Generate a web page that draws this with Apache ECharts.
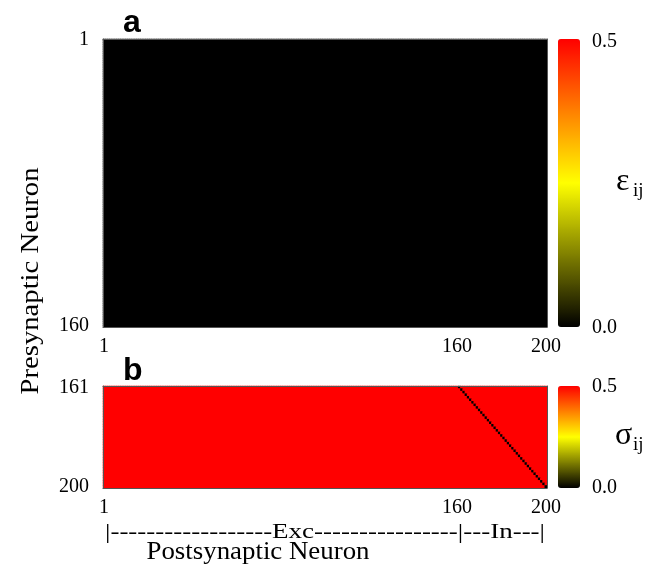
<!DOCTYPE html>
<html>
<head>
<meta charset="utf-8">
<script src="https://cdn.jsdelivr.net/npm/echarts@6/dist/echarts.min.js"></script>
<style>
  html, body { margin: 0; padding: 0; background: #fff; }
  #chart { width: 664px; height: 564px; }
</style>
</head>
<body>
<div id="chart"></div>
<script>
// ---------------- data ----------------
const NUM_NEURONS = 200;          // 160 excitatory + 40 inhibitory
const NUM_EXC = 160;
const postNeurons = Array.from({length: NUM_NEURONS}, (_, i) => String(i + 1));
const preNeuronsA = Array.from({length: NUM_EXC}, (_, i) => String(i + 1));             // 1..160
const preNeuronsB = Array.from({length: NUM_NEURONS - NUM_EXC}, (_, i) => String(NUM_EXC + i + 1)); // 161..200

const epsilonValue = 0.0;   // panel a: every excitatory coupling reads black
const sigmaValue = 0.5;     // panel b: every inhibitory coupling reads red
// inhibitory neurons without self-coupling (the black diagonal)
const sigmaZeroSelf = [161,162,163,164,165,166,167,168,169,170,171,172,173,174,175,176,177,178,179,180,
                       181,182,183,184,185,186,187,188,189,190,191,192,193,194,195,196,197,198,199,200];

const xTickLabels = ['1', '160', '200'];
const yTickLabelsA = ['1', '160'];
const yTickLabelsB = ['161', '200'];
const colorbarMin = 0.0, colorbarMax = 0.5;
const colorbarLabels = ['0.5', '0.0'];

// ---------------- build matrices ----------------
const dataA = [];
for (let r = 0; r < preNeuronsA.length; r++)
  for (let c = 0; c < postNeurons.length; c++)
    dataA.push([c, r, epsilonValue]);

const zeroSet = new Set(sigmaZeroSelf);
const dataB = [];
for (let r = 0; r < preNeuronsB.length; r++) {
  const pre = Number(preNeuronsB[r]);
  for (let c = 0; c < postNeurons.length; c++) {
    const post = Number(postNeurons[c]);
    dataB.push([c, r, (zeroSet.has(pre) && pre === post) ? 0 : sigmaValue]);
  }
}

// ---------------- styling ----------------
const SERIF = '"Liberation Serif", "DejaVu Serif", serif';
const SANS = '"Liberation Sans", Arial, sans-serif';
const cmap = ['#000000', '#ffff00', '#ff0000'];
const FRAME = '#555555';

const gridA = {left: 103, top: 39, width: 444, height: 288};
const gridB = {left: 103, top: 386, width: 444, height: 102};

function catAxis(gridIndex, data, labels, isY, position) {
  const s = new Set(labels);
  const showLabels = !!labels;
  return {
    type: 'category', gridIndex, data, position,
    inverse: !!isY, z: 10,
    axisLine: {show: true, onZero: false, lineStyle: {color: FRAME, width: 1}},
    axisTick: {show: false}, splitLine: {show: false},
    axisLabel: {
      show: showLabels,
      interval: (idx, val) => s.has(val),
      color: '#000', fontFamily: SERIF, fontSize: 20,
      margin: isY ? 14 : 10
    }
  };
}

// measure text so that long labels can be stretched to the reference length
function textWidth(str, font) {
  const ctx = document.createElement('canvas').getContext('2d');
  ctx.font = font;
  return ctx.measureText(str).width;
}
const excLine = '|------------------Exc----------------|---In---|';
const excFontSize = 22;
const excScale = 440 / textWidth(excLine, excFontSize + 'px "Liberation Serif"');
const nameFontSize = 25;
const preName = 'Presynaptic Neuron';
const postName = 'Postsynaptic Neuron';
const preScale = 227 / textWidth(preName, nameFontSize + 'px "Liberation Serif"');
const postScale = 223 / textWidth(postName, nameFontSize + 'px "Liberation Serif"');

const chart = echarts.init(document.getElementById('chart'), null, {renderer: 'canvas'});
chart.setOption({
  backgroundColor: '#ffffff',
  animation: false,
  grid: [
    Object.assign({show: true, borderWidth: 0, backgroundColor: cmap[0]}, gridA),
    Object.assign({show: true, borderWidth: 0, backgroundColor: cmap[2]}, gridB)
  ],
  xAxis: [
    catAxis(0, postNeurons, xTickLabels, false, 'bottom'),
    catAxis(1, postNeurons, xTickLabels, false, 'bottom'),
    catAxis(0, postNeurons, null, false, 'top'),
    catAxis(1, postNeurons, null, false, 'top')
  ],
  yAxis: [
    catAxis(0, preNeuronsA, yTickLabelsA, true, 'left'),
    catAxis(1, preNeuronsB, yTickLabelsB, true, 'left'),
    catAxis(0, preNeuronsA, null, true, 'right'),
    catAxis(1, preNeuronsB, null, true, 'right')
  ],
  visualMap: [
    {
      type: 'continuous', seriesIndex: 0, min: colorbarMin, max: colorbarMax,
      calculable: false, hoverLink: false, realtime: false,
      orient: 'vertical', left: 558, top: 39, itemWidth: 22, itemHeight: 288,
      padding: 0, text: null, showLabel: false,
      inRange: {color: cmap}
    },
    {
      type: 'continuous', seriesIndex: 1, min: colorbarMin, max: colorbarMax,
      calculable: false, hoverLink: false, realtime: false,
      orient: 'vertical', left: 558, top: 386, itemWidth: 22, itemHeight: 102,
      padding: 0, text: null, showLabel: false,
      inRange: {color: cmap}
    }
  ],
  series: [
    {type: 'heatmap', xAxisIndex: 0, yAxisIndex: 0, data: dataA, progressive: 0, emphasis: {disabled: true}},
    {type: 'heatmap', xAxisIndex: 1, yAxisIndex: 1, data: dataB, progressive: 0, emphasis: {disabled: true}}
  ],
  graphic: [
    {type: 'text', left: 123, top: 7, style: {text: 'a', font: 'bold 32px ' + SANS, fill: '#000'}},
    {type: 'text', left: 123, top: 355, style: {text: 'b', font: 'bold 32px ' + SANS, fill: '#000'}},
    // colorbar tick labels
    {type: 'text', x: 592, y: 42, style: {text: colorbarLabels[0], font: '20px ' + SERIF, fill: '#000', verticalAlign: 'middle'}},
    {type: 'text', x: 592, y: 328, style: {text: colorbarLabels[1], font: '20px ' + SERIF, fill: '#000', verticalAlign: 'middle'}},
    {type: 'text', x: 592, y: 387, style: {text: colorbarLabels[0], font: '20px ' + SERIF, fill: '#000', verticalAlign: 'middle'}},
    {type: 'text', x: 592, y: 488, style: {text: colorbarLabels[1], font: '20px ' + SERIF, fill: '#000', verticalAlign: 'middle'}},
    // colorbar titles
    {type: 'text', x: 616, y: 182, style: {text: 'ε', font: '32px ' + SERIF, fill: '#000', verticalAlign: 'middle'}},
    {type: 'text', x: 633, y: 191, style: {text: 'ij', font: '19px ' + SERIF, fill: '#000', verticalAlign: 'middle'}},
    {type: 'text', x: 615, y: 436, style: {text: 'σ', font: '32px ' + SERIF, fill: '#000', verticalAlign: 'middle'}},
    {type: 'text', x: 633, y: 445, style: {text: 'ij', font: '19px ' + SERIF, fill: '#000', verticalAlign: 'middle'}},
    // axis names
    {type: 'text', x: 31, y: 281, rotation: Math.PI / 2, scaleX: preScale,
     style: {text: preName, font: nameFontSize + 'px ' + SERIF, fill: '#000', align: 'center', verticalAlign: 'middle'}},
    {type: 'text', x: 325, y: 532, scaleX: excScale,
     style: {text: excLine, font: excFontSize + 'px ' + SERIF, fill: '#000', align: 'center', verticalAlign: 'middle'}},
    {type: 'text', x: 258, y: 552, scaleX: postScale,
     style: {text: postName, font: nameFontSize + 'px ' + SERIF, fill: '#000', align: 'center', verticalAlign: 'middle'}}
  ]
});
</script>
</body>
</html>
